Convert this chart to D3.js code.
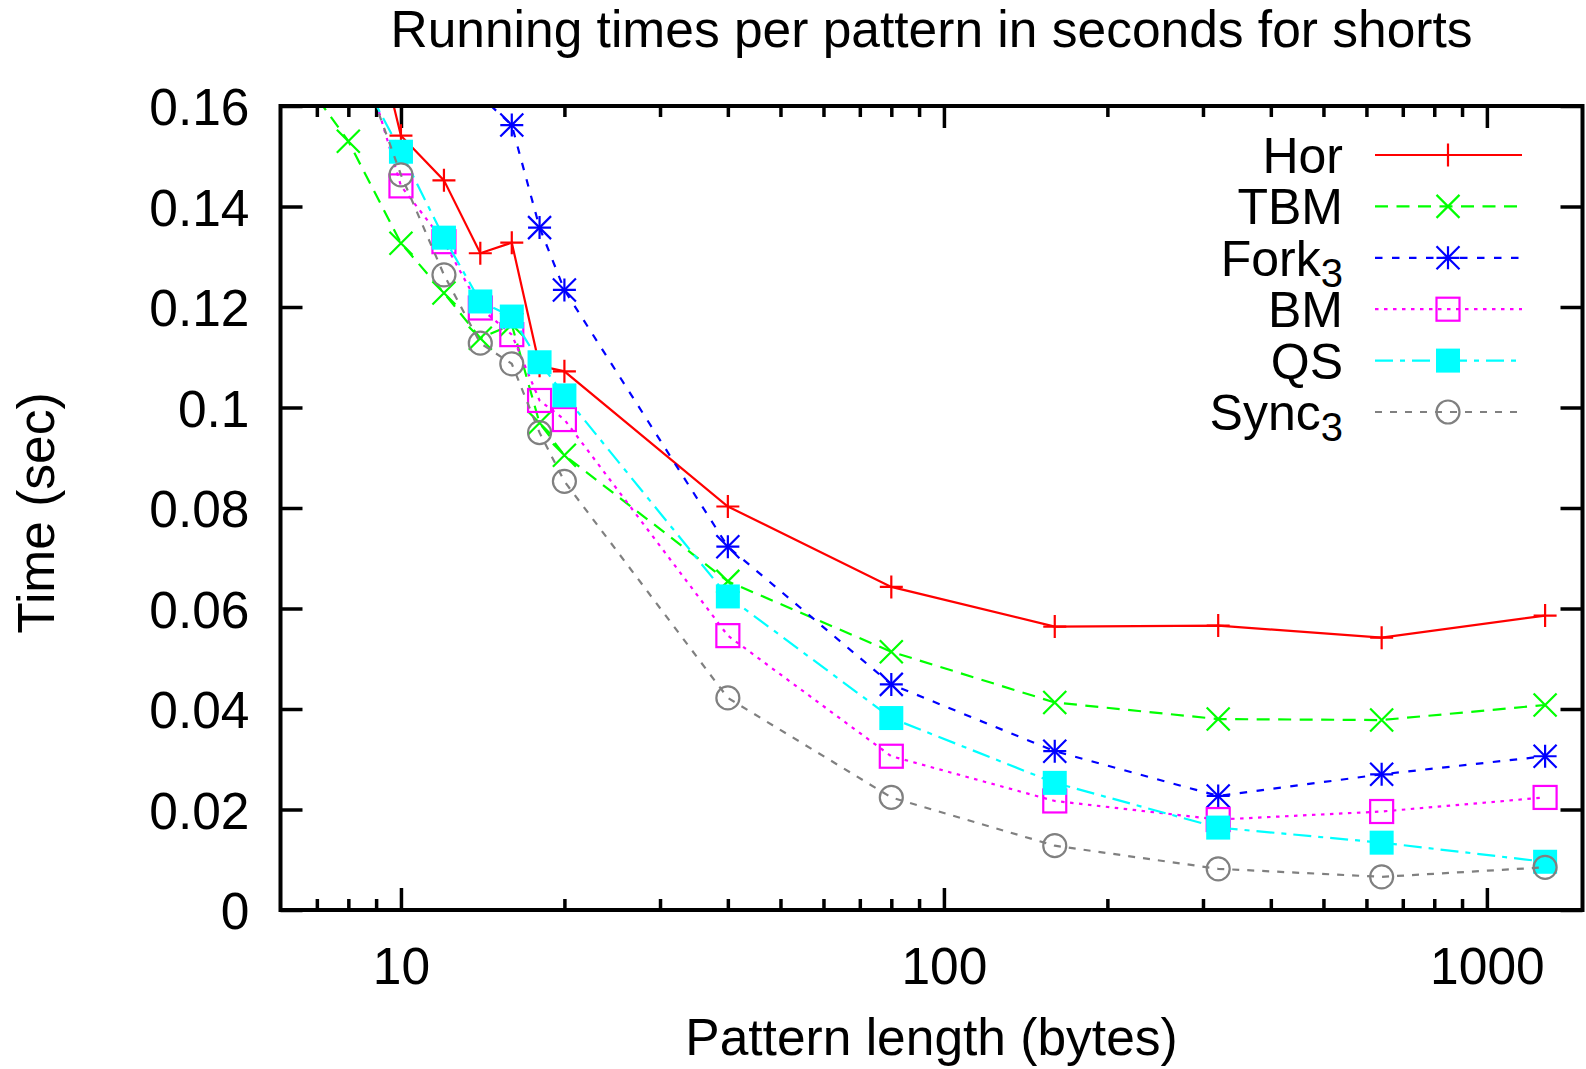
<!DOCTYPE html>
<html><head><meta charset="utf-8">
<script src="https://cdn.jsdelivr.net/npm/d3@7"></script>
<style>
body{margin:0;background:#fff}
svg{display:block}
text{font-family:"Liberation Sans",Arial,Helvetica,sans-serif;fill:#000}
</style>
</head><body>
<svg id="chart" width="1586" height="1069"></svg>
<script>
// ---- data ----
const patternLengths = [6, 8, 10, 12, 14, 16, 18, 20, 40, 80, 160, 320, 640, 1280];
const horValues  = [null, 0.197, 0.1541, 0.1452, 0.1307, 0.1328, 0.1083, 0.1072, 0.0803, 0.0643, 0.0564, 0.0566, 0.0542, 0.0586];
const tbmValues  = [0.1717, 0.1530, 0.1327, 0.1228, 0.1138, 0.1165, 0.0969, 0.0905, 0.0654, 0.0514, 0.0413, 0.0380, 0.0378, 0.0408];
const forkValues = [null, 0.21, 0.19, 0.175, 0.162, 0.1562, 0.1358, 0.1234, 0.0723, 0.0449, 0.0316, 0.0227, 0.0270, 0.0306];
const bmValues   = [null, 0.1794, 0.1441, 0.1330, 0.1198, 0.1145, 0.1014, 0.0976, 0.0546, 0.0306, 0.0217, 0.0180, 0.0196, 0.0224];
const qsValues   = [null, 0.1706, 0.1509, 0.1338, 0.1211, 0.1181, 0.1090, 0.1024, 0.0624, 0.0382, 0.0253, 0.0164, 0.0134, 0.0096];
const syncValues = [null, 0.1753, 0.1463, 0.1264, 0.1128, 0.1087, 0.0950, 0.0853, 0.0422, 0.0224, 0.0128, 0.0082, 0.0066, 0.0085];

const seriesNames = ["Hor", "TBM", "Fork", "BM", "QS", "Sync"];
const seriesSubs  = ["", "", "3", "", "", "3"];
const yTickValues = [0, 0.02, 0.04, 0.06, 0.08, 0.1, 0.12, 0.14, 0.16];
const yTickLabels = ["0", "0.02", "0.04", "0.06", "0.08", "0.1", "0.12", "0.14", "0.16"];
const xMajorTicks = [10, 100, 1000];
const xTickLabels = ["10", "100", "1000"];
const xMinorTicks = [7, 8, 9, 20, 30, 40, 50, 60, 70, 80, 90, 200, 300, 400, 500, 600, 700, 800, 900];
const titleText = "Running times per pattern in seconds for shorts";
const xLabelText = "Pattern length (bytes)";
const yLabelText = "Time (sec)";

// ---- styles ----
const styles = [
  {color:"#ff0000", dash:null,           marker:"plus"},
  {color:"#00ff00", dash:"13,8.5",       marker:"cross"},
  {color:"#0000ff", dash:"7.5,9.5",      marker:"star"},
  {color:"#ff00ff", dash:"3.5,5.5",      marker:"box"},
  {color:"#00ffff", dash:"18,7,5,7",     marker:"fbox"},
  {color:"#808080", dash:"7,8",          marker:"circle"}
];
const allValues = [horValues, tbmValues, forkValues, bmValues, qsValues, syncValues];
const FS = 51.5;
const LFS = 50;

const L = 280.5, R = 1582.5, T = 106, B = 910;
const svg = d3.select("#chart");
const x = d3.scaleLog().domain([6, 1500]).range([L, R]);
const y = d3.scaleLinear().domain([0, 0.16]).range([B, T]);

svg.append("defs").append("clipPath").attr("id","plotclip")
  .append("rect").attr("x",L).attr("y",T).attr("width",R-L).attr("height",B-T);

function styleAxis(g){
  g.select(".domain").remove();
  g.selectAll(".tick line").attr("stroke","#000").attr("stroke-width",3.5);
  g.selectAll(".tick text").attr("font-size",FS).attr("fill","#000");
}
svg.append("g").attr("transform",`translate(${L},0)`)
  .call(d3.axisLeft(y).tickValues(yTickValues).tickFormat((d,i)=>yTickLabels[i]).tickSize(-22).tickPadding(31))
  .call(styleAxis).call(g=>g.selectAll(".tick text").attr("dy","0.36em"));
svg.append("g").attr("transform",`translate(${R},0)`)
  .call(d3.axisRight(y).tickValues(yTickValues).tickFormat("").tickSize(-22))
  .call(styleAxis);
svg.append("g").attr("transform",`translate(0,${B})`)
  .call(d3.axisBottom(x).tickValues(xMajorTicks).tickFormat((d,i)=>xTickLabels[i]).tickSize(-22).tickPadding(37))
  .call(styleAxis);
svg.append("g").attr("transform",`translate(0,${B})`)
  .call(d3.axisBottom(x).tickValues(xMinorTicks).tickFormat("").tickSize(-11))
  .call(styleAxis);
svg.append("g").attr("transform",`translate(0,${T})`)
  .call(d3.axisTop(x).tickValues(xMajorTicks).tickFormat("").tickSize(-22))
  .call(styleAxis);
svg.append("g").attr("transform",`translate(0,${T})`)
  .call(d3.axisTop(x).tickValues(xMinorTicks).tickFormat("").tickSize(-11))
  .call(styleAxis);

svg.append("text").attr("x",(L+R)/2).attr("y",47).attr("text-anchor","middle").attr("font-size",FS).text(titleText);
svg.append("text").attr("x",(L+R)/2).attr("y",1055).attr("text-anchor","middle").attr("font-size",FS).text(xLabelText);
svg.append("text").attr("transform",`translate(54,${(T+B)/2+5}) rotate(-90)`).attr("text-anchor","middle").attr("font-size",FS).text(yLabelText);

const MS = 11.5;
function drawMarker(g, type, cx, cy, color){
  const h = MS;
  if (type==="plus"||type==="star"){
    g.append("path").attr("d",`M${cx-h},${cy}H${cx+h}M${cx},${cy-h}V${cy+h}`).attr("stroke",color).attr("stroke-width",2.2).attr("fill","none");
  }
  if (type==="cross"||type==="star"){
    g.append("path").attr("d",`M${cx-h},${cy-h}L${cx+h},${cy+h}M${cx-h},${cy+h}L${cx+h},${cy-h}`).attr("stroke",color).attr("stroke-width",2.2).attr("fill","none");
  }
  if (type==="box"){
    g.append("rect").attr("x",cx-h).attr("y",cy-h).attr("width",2*h).attr("height",2*h).attr("stroke",color).attr("stroke-width",2.2).attr("fill","none");
  }
  if (type==="fbox"){
    g.append("rect").attr("x",cx-h-0.5).attr("y",cy-h-0.5).attr("width",2*h+1).attr("height",2*h+1).attr("fill",color);
  }
  if (type==="circle"){
    g.append("circle").attr("cx",cx).attr("cy",cy).attr("r",h).attr("stroke",color).attr("stroke-width",2.2).attr("fill","none");
  }
}

const line = d3.line().defined(d=>d.v!=null).x(d=>x(d.x)).y(d=>y(d.v));
const legX1 = 1375, legX2 = 1522, legMX = 1448, legTextX = 1343, legY0 = 155, legDY = 51.4;

seriesNames.forEach((name,i)=>{
  const st = styles[i];
  const g = svg.append("g");
  const ly = legY0 + i*legDY;
  const t = g.append("text").attr("x",legTextX).attr("y",ly+18).attr("text-anchor","end").attr("font-size",LFS);
  t.append("tspan").text(name);
  if (seriesSubs[i]) t.append("tspan").attr("font-size",40).attr("dy",11).text(seriesSubs[i]);
  g.append("line").attr("x1",legX1).attr("x2",legX2).attr("y1",ly).attr("y2",ly)
    .attr("stroke",st.color).attr("stroke-width",2.2).attr("stroke-dasharray",st.dash);
  drawMarker(g, st.marker, legMX, ly, st.color);
  const data = patternLengths.map((px,j)=>({x:px, v:allValues[i][j]}));
  g.append("path").datum(data).attr("d",line).attr("clip-path","url(#plotclip)")
    .attr("fill","none").attr("stroke",st.color).attr("stroke-width",2.2).attr("stroke-dasharray",st.dash);
  data.filter(d=>d.v!=null && d.v<=0.16 && d.x>=6 && d.x<=1500).forEach(d=>{
    drawMarker(g, st.marker, x(d.x), y(d.v), st.color);
  });
});

svg.append("rect").attr("x",L).attr("y",T).attr("width",R-L).attr("height",B-T)
  .attr("fill","none").attr("stroke","#000").attr("stroke-width",4);
</script>
</body></html>
